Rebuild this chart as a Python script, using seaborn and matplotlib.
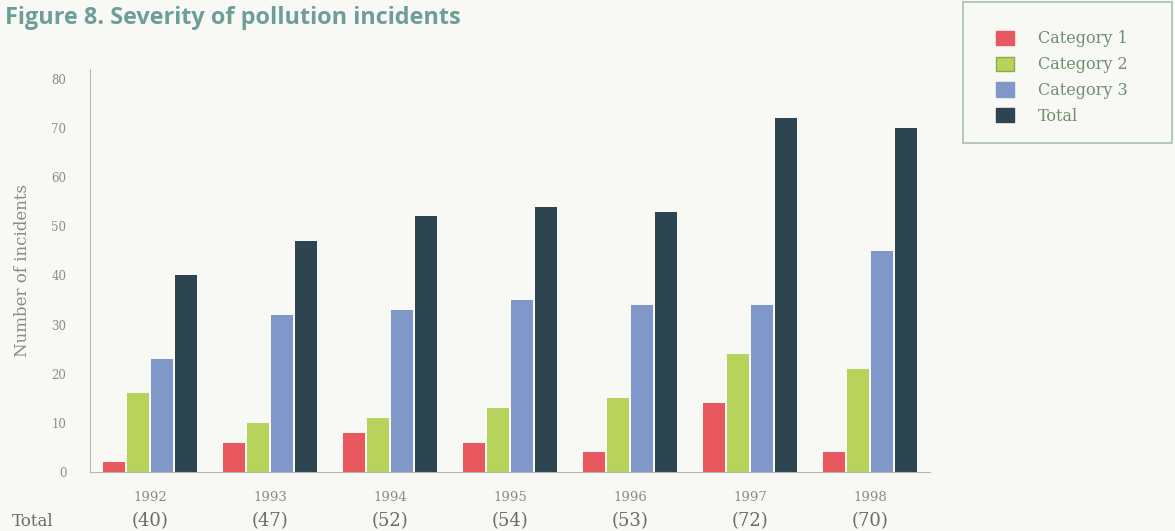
import matplotlib
matplotlib.use("Agg")
import matplotlib.pyplot as plt
from matplotlib.patches import Patch, Rectangle
import seaborn as sns
import pandas as pd

# Incident counts per year
years = ["1992", "1993", "1994", "1995", "1996", "1997", "1998"]
category_1 = [2, 6, 8, 6, 4, 14, 4]
category_2 = [16, 10, 11, 13, 15, 24, 21]
category_3 = [23, 32, 33, 35, 34, 34, 45]
total = [40, 47, 52, 54, 53, 72, 70]

series_names = ["Category 1", "Category 2", "Category 3", "Total"]
series_colors = ["#e9585f", "#b7d35b", "#7f98c9", "#2d4550"]

rows = []
for name, values in zip(series_names, [category_1, category_2, category_3, total]):
    for year, v in zip(years, values):
        rows.append({"year": year, "series": name, "count": v})
df = pd.DataFrame(rows)

sns.set_style("white")
bg = "#f8f8f4"
serif = ["DejaVu Serif"]

fig = plt.figure(figsize=(11.75, 5.31), dpi=100, facecolor=bg)
ax = fig.add_axes([90 / 1175, 59 / 531, 840 / 1175, (472 - 69) / 531])
ax.set_facecolor(bg)

sns.barplot(data=df, x="year", y="count", hue="series", order=years,
            hue_order=series_names, palette=series_colors, saturation=1,
            width=0.8, gap=0.12, legend=False, ax=ax, edgecolor="none")

ax.set_xlim(-0.5, len(years) - 0.5)
ax.set_ylim(0, 82)
ax.set_yticks(range(0, 81, 10))
ax.set_xlabel("")
ax.set_ylabel("Number of incidents", family=serif, fontsize=12,
              color="#8a8a8a", labelpad=15)

for side in ("top", "right"):
    ax.spines[side].set_visible(False)
ax.spines["left"].set_color("#b8b8b8")
ax.spines["bottom"].set_color("#b8b8b8")
ax.spines["left"].set_linewidth(0.8)
ax.spines["bottom"].set_linewidth(0.8)

ax.tick_params(axis="y", direction="out", length=11, width=0.8, color="#b8b8b8",
               labelsize=8.5, labelcolor="#8c8c8c", pad=6)
ax.tick_params(axis="x", length=0, labelsize=9.5, labelcolor="#8c8c8c", pad=14)
for lab in ax.get_yticklabels() + ax.get_xticklabels():
    lab.set_family(serif)

# Small separators between year groups
ax.set_xticks([i + 0.5 for i in range(len(years) - 1)], minor=True)
ax.tick_params(axis="x", which="minor", direction="in", length=7, width=0.8,
               color="#b0b0b0")

# Row of yearly totals under the axis
fig.text(12 / 1175, 1 - 521 / 531, "Total", family=serif, fontsize=12,
         color="#6a6a6a", va="center", ha="left")
for i, t in enumerate(total):
    x_disp = ax.transData.transform((i, 0))[0]
    fig.text(x_disp / fig.bbox.width, 1 - 521 / 531, f"({t})", family=serif,
             fontsize=13, color="#6a6a6a", va="center", ha="center")

fig.text(5 / 1175, 1 - 18 / 531, "Figure 8. Severity of pollution incidents",
         family=["Open Sans"], fontweight="bold", fontsize=16.9,
         color="#6f9e98", va="center", ha="left")

# Legend in a framed box at the top right
handles = [Patch(facecolor=c, edgecolor=c, label=n)
           for c, n in zip(series_colors, series_names)]
handles[1].set_edgecolor("#8fa84a")
leg = fig.legend(handles=handles, loc="upper left",
                 bbox_to_anchor=(982 / 1175, 1 - 16 / 531), frameon=False,
                 handlelength=1.1, handleheight=1.0, handletextpad=1.5,
                 labelspacing=0.55, prop={"family": serif, "size": 11.5})
for txt in leg.get_texts():
    txt.set_color("#6f8f6f")
fig.patches.append(Rectangle((963 / 1175, 1 - 143 / 531), 209 / 1175, 141 / 531,
                             transform=fig.transFigure, fill=False,
                             edgecolor="#a9c1a9", linewidth=1.2))

fig.savefig("out.png", dpi=100, facecolor=bg)
